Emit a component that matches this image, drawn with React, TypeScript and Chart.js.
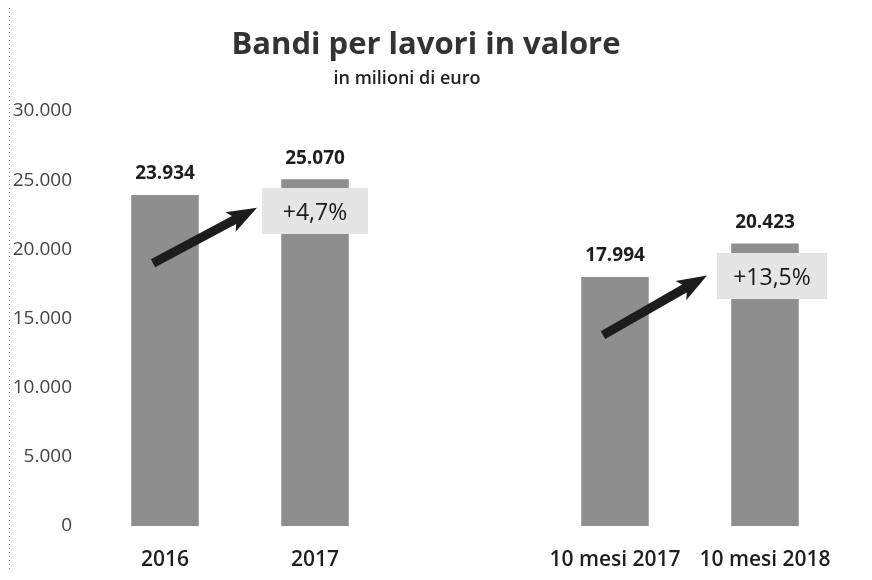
import React, { useEffect, useRef } from "react";
import { Chart, registerables } from "chart.js";

Chart.register(...registerables);

const categories = ["2016", "2017", "", "10 mesi 2017", "10 mesi 2018"];
const values: (number | null)[] = [23934, 25070, null, 17994, 20423];
const yTicks = [0, 5000, 10000, 15000, 20000, 25000, 30000];
const titleText = "Bandi per lavori in valore";
const subtitleText = "in milioni di euro";

// growth annotations: [from bar index, to bar index]
const arrowPairs = [
  [0, 1],
  [3, 4],
];
const arrowTailValues = [19000, 13800];
const arrowHeadValues = [23000, 18100];
const changeLabels = ["+4,7%", "+13,5%"];
const changeBoxCenterValues = [22770, 18070];

const fmt = (v: number) => String(Math.round(v)).replace(/\B(?=(\d{3})+(?!\d))/g, ".");

const FONT = "'Open Sans', 'DejaVu Sans', sans-serif";

const decorPlugin = {
  id: "decor",
  afterDatasetsDraw(chart: any) {
    const ctx = chart.ctx as CanvasRenderingContext2D;
    const xs = chart.scales.x;
    const ys = chart.scales.y;
    const meta = chart.getDatasetMeta(0);

    ctx.save();
    // left dotted border
    ctx.strokeStyle = "#9a9a9a";
    ctx.lineWidth = 1;
    ctx.setLineDash([1, 3]);
    ctx.beginPath();
    ctx.moveTo(1.5, 0);
    ctx.lineTo(1.5, chart.height);
    ctx.stroke();
    ctx.setLineDash([]);

    // value labels
    ctx.fillStyle = "#1e1e1e";
    ctx.font = `bold 19px ${FONT}`;
    ctx.textAlign = "center";
    ctx.textBaseline = "middle";
    meta.data.forEach((bar: any, i: number) => {
      const v = values[i];
      if (v == null) return;
      ctx.fillText(fmt(v), bar.x, bar.y - 21);
    });

    // arrows and change boxes
    arrowPairs.forEach(([a, b], k) => {
      const xa = xs.getPixelForValue(a);
      const xb = xs.getPixelForValue(b);
      const tx = xa - 12;
      const ty = ys.getPixelForValue(arrowTailValues[k]);
      const hx = xb - 58;
      const hy = ys.getPixelForValue(arrowHeadValues[k]);
      const ang = Math.atan2(hy - ty, hx - tx);
      const len = Math.hypot(hx - tx, hy - ty);
      ctx.save();
      ctx.translate(tx, ty);
      ctx.rotate(ang);
      ctx.fillStyle = "#1c1c1c";
      ctx.beginPath();
      ctx.moveTo(0, -4.5);
      ctx.lineTo(len - 26, -4.5);
      ctx.lineTo(len - 30, -11);
      ctx.lineTo(len, 0);
      ctx.lineTo(len - 30, 11);
      ctx.lineTo(len - 26, 4.5);
      ctx.lineTo(0, 4.5);
      ctx.closePath();
      ctx.fill();
      ctx.restore();

      const cy = ys.getPixelForValue(changeBoxCenterValues[k]);
      const w = k === 0 ? 106 : 110;
      const cx = xb + (k === 0 ? 0 : 7);
      const h = 46;
      ctx.fillStyle = "#e5e5e5";
      ctx.fillRect(cx - w / 2, cy - h / 2, w, h);
      ctx.fillStyle = "#1a1a1a";
      ctx.font = `400 23px ${FONT}`;
      ctx.textAlign = "center";
      ctx.textBaseline = "middle";
      ctx.fillText(changeLabels[k], cx, cy + 2);
    });

    // titles
    ctx.fillStyle = "#333333";
    ctx.font = `bold 31px ${FONT}`;
    ctx.textAlign = "center";
    ctx.textBaseline = "middle";
    ctx.fillText(titleText, 418, 37);
    ctx.font = `600 18px ${FONT}`;
    ctx.fillStyle = "#222222";
    ctx.fillText(subtitleText, 399, 71);
    ctx.restore();
  },
};

export default function App() {
  const ref = useRef<HTMLCanvasElement>(null);
  useEffect(() => {
    if (!ref.current) return;
    const chart = new Chart(ref.current, {
      type: "bar",
      data: {
        labels: categories,
        datasets: [
          {
            data: values,
            backgroundColor: "#8e8e8e",
            barPercentage: 0.9,
            categoryPercentage: 0.5,
          },
        ],
      },
      options: {
        animation: false,
        responsive: true,
        maintainAspectRatio: false,
        layout: { padding: { top: 103, right: 24, bottom: 0, left: 0 } },
        plugins: {
          legend: { display: false },
          tooltip: { enabled: false },
          title: { display: false },
        },
        scales: {
          x: {
            grid: { display: false, drawTicks: false },
            border: { display: false },
            ticks: {
              padding: 21,
              color: "#1e1e1e",
              font: { family: FONT, size: 21, weight: "600" as any },
            },
            afterFit: (s: any) => {
              s.height = 46;
            },
          },
          y: {
            min: 0,
            max: 30000,
            grid: { display: false, drawTicks: false },
            border: { display: false },
            afterBuildTicks: (s: any) => {
              s.ticks = yTicks.map((v) => ({ value: v }));
            },
            ticks: {
              padding: 18,
              color: "#444444",
              font: { family: FONT, size: 19, weight: "400" as any },
              callback: (v: any) => fmt(Number(v)),
            },
            afterFit: (s: any) => {
              s.width = 82;
            },
          },
        },
      },
      plugins: [decorPlugin],
    });
    return () => chart.destroy();
  }, []);
  return (
    <div style={{ width: 856, height: 564, position: "relative" }}>
      <canvas ref={ref} />
    </div>
  );
}
